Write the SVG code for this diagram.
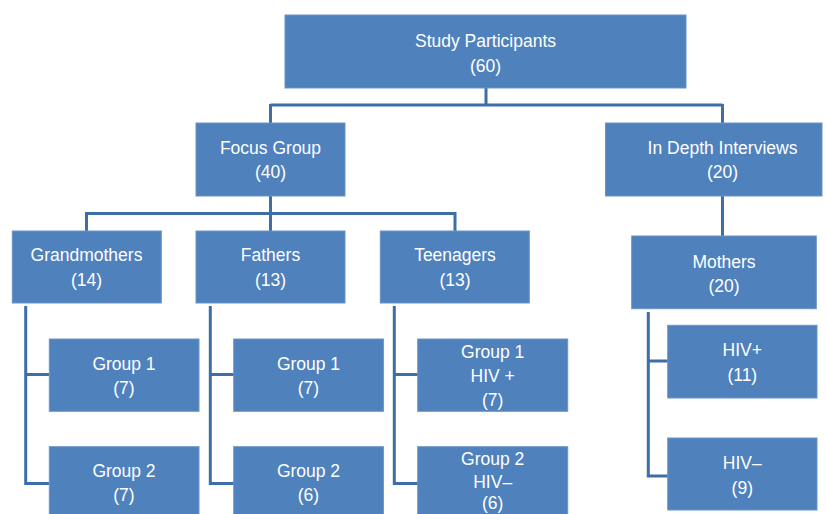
<svg xmlns="http://www.w3.org/2000/svg" width="827" height="514" viewBox="0 0 827 514">
<style>
.box{fill:#4f81bd;stroke:#6a94c8;stroke-width:1}
.t{fill:#ffffff;font-family:"Liberation Sans",Arial,sans-serif;font-size:17.5px;text-anchor:middle}
.c{fill:none;stroke:#3d6ea8;stroke-width:3}
</style>
<rect width="827" height="514" fill="#ffffff"/>
<g id="connectors">
<path class="c" d="M486 88V105M270.5 105H722.5M270.5 104V123M722.5 104V123"/>
<path class="c" d="M270.5 196V213.5M86.5 213.5H455M86.5 212V231M270.5 212V231M455 212V231"/>
<path class="c" d="M722.5 196V236"/>
<path class="c" d="M25.7 306V483.5H49M25.7 374.5H49"/>
<path class="c" d="M210.3 306V483.5H234M210.3 374.5H234"/>
<path class="c" d="M394.3 306V483.5H418M394.3 374.5H418"/>
<path class="c" d="M648.3 312V476H668M648.3 361H668"/>
</g>
<g id="study"><rect class="box" x="285" y="15" width="401" height="73"/><text class="t" x="485.5" y="47">Study Participants</text><text class="t" x="485.5" y="72">(60)</text></g>
<g id="focus"><rect class="box" x="196" y="123" width="149" height="73"/><text class="t" x="270.5" y="154">Focus Group</text><text class="t" x="270.5" y="178">(40)</text></g>
<g id="interviews"><rect class="box" x="605.5" y="123" width="216.5" height="73"/><text class="t" x="722.5" y="154">In Depth Interviews</text><text class="t" x="722.5" y="178">(20)</text></g>
<g id="grandmothers"><rect class="box" x="12.3" y="231" width="149" height="72"/><text class="t" x="86.5" y="261">Grandmothers</text><text class="t" x="86.5" y="286">(14)</text></g>
<g id="fathers"><rect class="box" x="196" y="231" width="149" height="72"/><text class="t" x="270.5" y="261">Fathers</text><text class="t" x="270.5" y="286">(13)</text></g>
<g id="teenagers"><rect class="box" x="380.3" y="231" width="149" height="72"/><text class="t" x="455" y="261">Teenagers</text><text class="t" x="455" y="286">(13)</text></g>
<g id="mothers"><rect class="box" x="631.7" y="236" width="184.6" height="72.7"/><text class="t" x="724" y="268">Mothers</text><text class="t" x="724" y="292">(20)</text></g>
<g id="g-group1"><rect class="box" x="49.3" y="339" width="149.7" height="72.3"/><text class="t" x="124" y="370">Group 1</text><text class="t" x="124" y="394">(7)</text></g>
<g id="g-group2"><rect class="box" x="49.3" y="446.7" width="149.7" height="72.3"/><text class="t" x="124" y="477">Group 2</text><text class="t" x="124" y="501">(7)</text></g>
<g id="f-group1"><rect class="box" x="233.7" y="339" width="149.7" height="72.3"/><text class="t" x="308.5" y="370">Group 1</text><text class="t" x="308.5" y="394">(7)</text></g>
<g id="f-group2"><rect class="box" x="233.7" y="446.7" width="149.7" height="72.3"/><text class="t" x="308.5" y="477">Group 2</text><text class="t" x="308.5" y="501">(6)</text></g>
<g id="t-group1"><rect class="box" x="417.7" y="339" width="150" height="72.3"/><text class="t" x="492.7" y="358">Group 1</text><text class="t" x="492.7" y="382">HIV +</text><text class="t" x="492.7" y="406">(7)</text></g>
<g id="t-group2"><rect class="box" x="417.7" y="446.7" width="150" height="72.3"/><text class="t" x="492.7" y="465">Group 2</text><text class="t" x="492.7" y="488">HIV–</text><text class="t" x="492.7" y="509">(6)</text></g>
<g id="m-hivpos"><rect class="box" x="667.7" y="325.3" width="149.3" height="72.7"/><text class="t" x="742.3" y="356">HIV+</text><text class="t" x="742.3" y="381">(11)</text></g>
<g id="m-hivneg"><rect class="box" x="667.7" y="438" width="149.3" height="72"/><text class="t" x="742.3" y="469">HIV–</text><text class="t" x="742.3" y="494">(9)</text></g>
</svg>
